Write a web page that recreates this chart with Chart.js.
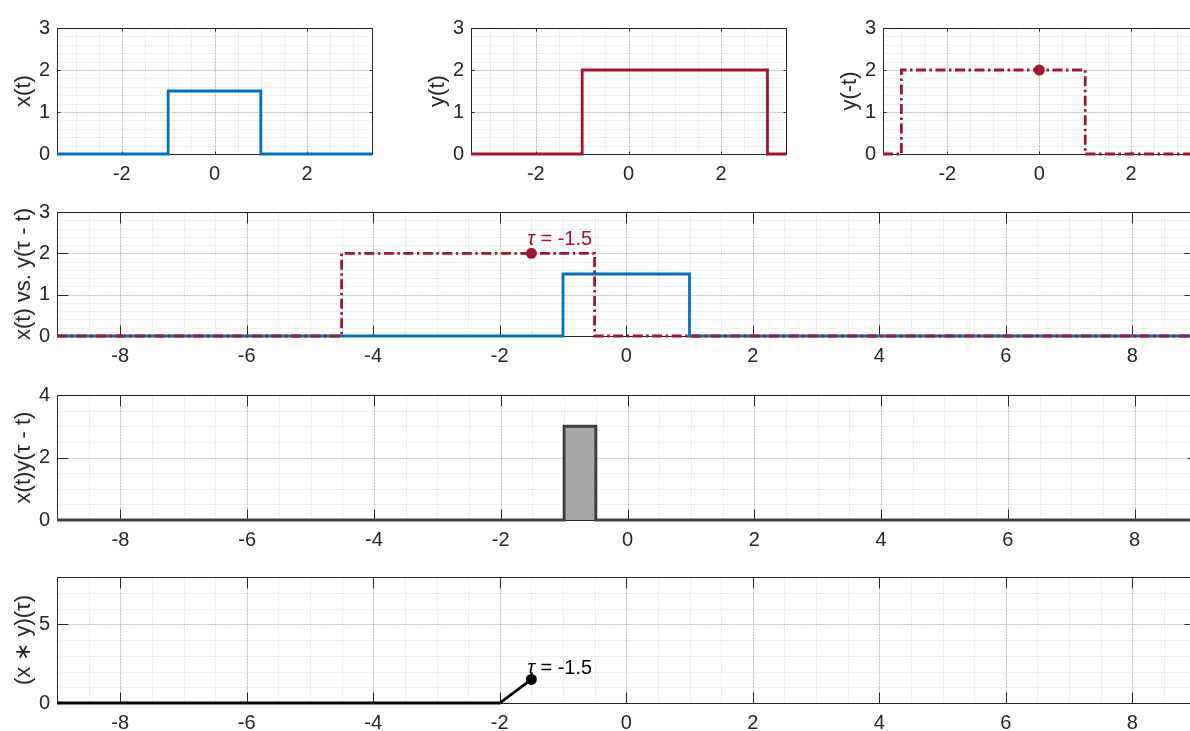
<!DOCTYPE html>
<html>
<head>
<meta charset="utf-8">
<script src="https://cdn.jsdelivr.net/npm/chart.js@4.4.1/dist/chart.umd.min.js"></script>
<style>
  html, body { margin: 0; padding: 0; background: #fff; overflow: hidden; width: 1190px; height: 731px; position: relative; }
  canvas { position: absolute; }
</style>
</head>
<body>
<canvas id="pX"></canvas>
<canvas id="pY"></canvas>
<canvas id="pYr"></canvas>
<canvas id="pBoth"></canvas>
<canvas id="pProd"></canvas>
<canvas id="pConv"></canvas>
<script>
// ---------------------------------------------------------
// Data (breakpoints of the piecewise signals)
// ---------------------------------------------------------
const tau = -1.5;
const tauText = '= -1.5';

// top row, t in [-3.4, 3.4]
const xT = [-3.4, -1, -1, 1, 1, 3.4];
const xV = [0, 0, 1.5, 1.5, 0, 0];
const yT = [-3.4, -1, -1, 3, 3, 3.4];
const yV = [0, 0, 2, 2, 0, 0];
const yRevT = [-3.4, -3, -3, 1, 1, 3.4];
const yRevV = [0, 0, 2, 2, 0, 0];

// wide rows, t in [-9, 9]
const xWideT = [-9, -1, -1, 1, 1, 9];
const xWideV = [0, 0, 1.5, 1.5, 0, 0];
const yShiftT = [-9, -4.5, -4.5, -0.5, -0.5, 9];
const yShiftV = [0, 0, 2, 2, 0, 0];
const prodT = [-9, -1, -1, -0.5, -0.5, 9];
const prodV = [0, 0, 3, 3, 0, 0];
const convT = [-9, -2, -1.5];
const convV = [0, 0, 1.5];

// markers
const dotTop = [{ x: 0, y: 2 }];
const dotShift = [{ x: tau, y: 2 }];
const dotConv = [{ x: tau, y: 1.5 }];

// ticks
const xTicksTop = [-2, 0, 2];
const xTicksWide = [-8, -6, -4, -2, 0, 2, 4, 6, 8];
const yTicks3 = [0, 1, 2, 3];
const yTicks4 = [0, 2, 4];
const yTicks8 = [0, 5];

// colours
const azul = '#0072BD';
const rojo = '#A2142F';
const gris = '#404040';
const grisClaro = '#a9a9a9';
const tinta = '#262626';

const FONT = '"Liberation Sans", Arial, Helvetica, sans-serif';
const pts = (ts, vs) => ts.map((t, i) => ({ x: t, y: vs[i] }));

// ---------------------------------------------------------
// Plugins: MATLAB-like box, grids, inner ticks, tau label
// ---------------------------------------------------------
const axesBox = {
  id: 'axesBox',
  beforeDatasetsDraw(chart, args, o) {
    const { ctx, chartArea: a, scales: { x, y } } = chart;
    const L = Math.floor(a.left) + 0.5, R = Math.floor(a.right) + 0.5;
    const T = Math.floor(a.top) + 0.5, B = Math.floor(a.bottom) + 0.5;
    const vline = v => { const p = Math.round(x.getPixelForValue(v)) + 0.5; ctx.moveTo(p, T); ctx.lineTo(p, B); };
    const hline = v => { const p = Math.round(y.getPixelForValue(v)) + 0.5; ctx.moveTo(L, p); ctx.lineTo(R, p); };
    ctx.save();
    ctx.lineWidth = 1;

    // minor grid
    ctx.strokeStyle = 'rgba(0,0,0,0.17)';
    ctx.setLineDash([1, 2]);
    ctx.beginPath();
    for (let k = Math.ceil(x.min / o.xMinor); k * o.xMinor <= x.max; k++) vline(k * o.xMinor);
    for (let k = Math.ceil(y.min / o.yMinor); k * o.yMinor <= y.max; k++) hline(k * o.yMinor);
    ctx.stroke();

    // major grid
    ctx.strokeStyle = 'rgba(0,0,0,0.2)';
    ctx.setLineDash([2, 1]);
    ctx.beginPath();
    x.ticks.forEach(t => vline(t.value));
    y.ticks.forEach(t => hline(t.value));
    ctx.stroke();

    // box + inward ticks
    ctx.setLineDash([]);
    ctx.strokeStyle = tinta;
    ctx.strokeRect(L, T, R - L, B - T);
    ctx.beginPath();
    x.ticks.forEach(t => {
      const p = Math.round(x.getPixelForValue(t.value)) + 0.5;
      ctx.moveTo(p, B); ctx.lineTo(p, B - o.tick);
      ctx.moveTo(p, T); ctx.lineTo(p, T + o.tick);
    });
    y.ticks.forEach(t => {
      const p = Math.round(y.getPixelForValue(t.value)) + 0.5;
      ctx.moveTo(L, p); ctx.lineTo(L + o.tick, p);
      ctx.moveTo(R, p); ctx.lineTo(R - o.tick, p);
    });
    ctx.stroke();
    ctx.restore();
  }
};

const tauLabel = {
  id: 'tauLabel',
  afterDatasetsDraw(chart, args, o) {
    if (!o.show) return;
    const { ctx, scales: { x, y } } = chart;
    const px = x.getPixelForValue(o.x) + o.dx;
    const py = y.getPixelForValue(o.y) + o.dy;
    ctx.save();
    ctx.fillStyle = o.color;
    ctx.textBaseline = 'alphabetic';
    ctx.textAlign = 'left';
    ctx.font = 'italic 20px ' + FONT;
    ctx.fillText('τ', px, py);
    const w = ctx.measureText('τ').width;
    ctx.font = '20px ' + FONT;
    ctx.fillText(' ' + tauText, px + w, py);
    ctx.restore();
  }
};

// ---------------------------------------------------------
// Panel factory
// ---------------------------------------------------------
const AXW = 57, AXH = 35, PADT = 12, PADR = 3;

function panel(id, area, xr, yr, datasets, extra) {
  const cv = document.getElementById(id);
  const w = AXW + (area.r - area.l) + PADR;
  const h = PADT + (area.b - area.t) + AXH;
  cv.width = w; cv.height = h;
  cv.style.width = w + 'px'; cv.style.height = h + 'px';
  cv.style.left = (area.l - AXW) + 'px';
  cv.style.top = (area.t - PADT) + 'px';

  return new Chart(cv, {
    type: 'line',
    data: { datasets },
    options: {
      responsive: false,
      animation: false,
      devicePixelRatio: 1,
      layout: { padding: { top: PADT, right: PADR, left: 0, bottom: 0 } },
      datasets: { line: { clip: 4 } },
      elements: { point: { radius: 0 }, line: { tension: 0, borderCapStyle: 'butt' } },
      plugins: {
        legend: { display: false },
        tooltip: { enabled: false },
        axesBox: { xMinor: xr.minor, yMinor: yr.minor, tick: extra.tick },
        tauLabel: extra.label || { show: false }
      },
      scales: {
        x: {
          type: 'linear', min: xr.min, max: xr.max,
          grid: { display: false, drawTicks: false }, border: { display: false },
          afterBuildTicks: s => { s.ticks = xr.ticks.map(v => ({ value: v })); },
          afterFit: s => { s.height = AXH; },
          ticks: { color: tinta, font: { family: FONT, size: 20 }, padding: 8, maxRotation: 0, autoSkip: false }
        },
        y: {
          type: 'linear', min: yr.min, max: yr.max,
          grid: { display: false, drawTicks: false }, border: { display: false },
          afterBuildTicks: s => { s.ticks = yr.ticks.map(v => ({ value: v })); },
          afterFit: s => { s.width = AXW; },
          ticks: { color: tinta, font: { family: FONT, size: 20 }, padding: 7, autoSkip: false },
          title: { display: true, text: extra.title, color: tinta, font: { family: FONT, size: 22 }, padding: { top: 11, bottom: 0 } }
        }
      }
    },
    plugins: [axesBox, tauLabel]
  });
}

const dashDot = [10, 3.5, 2.5, 3.5];
const LW = 2.8;
const xTop = { min: -3.4, max: 3.4, ticks: xTicksTop, minor: 0.5 };
const xWide = { min: -9, max: 9, ticks: xTicksWide, minor: 0.5 };

// top row
panel('pX', { l: 57, r: 372, t: 21, b: 154 }, xTop, { min: 0, max: 3, ticks: yTicks3, minor: 0.2 }, [
  { data: pts(xT, xV), borderColor: azul, borderWidth: LW }
], { tick: 3, title: 'x(t)' });

panel('pY', { l: 471, r: 786, t: 21, b: 154 }, xTop, { min: 0, max: 3, ticks: yTicks3, minor: 0.2 }, [
  { data: pts(yT, yV), borderColor: rojo, borderWidth: LW }
], { tick: 3, title: 'y(t)' });

panel('pYr', { l: 883, r: 1198, t: 21, b: 154 }, xTop, { min: 0, max: 3, ticks: yTicks3, minor: 0.2 }, [
  { data: dotTop, showLine: false, pointRadius: 5.5, pointBackgroundColor: rojo, pointBorderWidth: 0, order: 0 },
  { data: pts(yRevT, yRevV), borderColor: rojo, borderWidth: LW, borderDash: dashDot, order: 1 }
], { tick: 3, title: 'y(-t)' });

// x(t) vs y(tau - t)
panel('pBoth', { l: 57, r: 1198, t: 205, b: 336 }, xWide, { min: 0, max: 3, ticks: yTicks3, minor: 0.2 }, [
  { data: pts(xWideT, xWideV), borderColor: azul, borderWidth: LW, order: 2 },
  { data: pts(yShiftT, yShiftV), borderColor: rojo, borderWidth: LW, borderDash: dashDot, order: 1 },
  { data: dotShift, showLine: false, pointRadius: 5.5, pointBackgroundColor: rojo, pointBorderWidth: 0, order: 0 }
], { tick: 11, title: 'x(t) vs. y(τ - t)',
     label: { show: true, x: tau, y: 2, dx: -4, dy: -8, color: rojo } });

// product
panel('pProd', { l: 57, r: 1198, t: 388, b: 520 }, xWide, { min: 0, max: 4, ticks: yTicks4, minor: 0.5 }, [
  { data: pts(prodT, prodV), borderColor: gris, borderWidth: 3, fill: 'origin', backgroundColor: grisClaro }
], { tick: 11, title: 'x(t)y(τ - t)' });

// convolution
panel('pConv', { l: 57, r: 1198, t: 570, b: 703 }, xWide, { min: 0, max: 8, ticks: yTicks8, minor: 1 }, [
  { data: dotConv, showLine: false, pointRadius: 5.5, pointBackgroundColor: '#000', pointBorderWidth: 0, order: 0 },
  { data: pts(convT, convV), borderColor: '#000', borderWidth: LW, order: 1 }
], { tick: 11, title: '(x ∗ y)(τ)',
     label: { show: true, x: tau, y: 1.5, dx: -4, dy: -5, color: '#000' } });
</script>
</body>
</html>
